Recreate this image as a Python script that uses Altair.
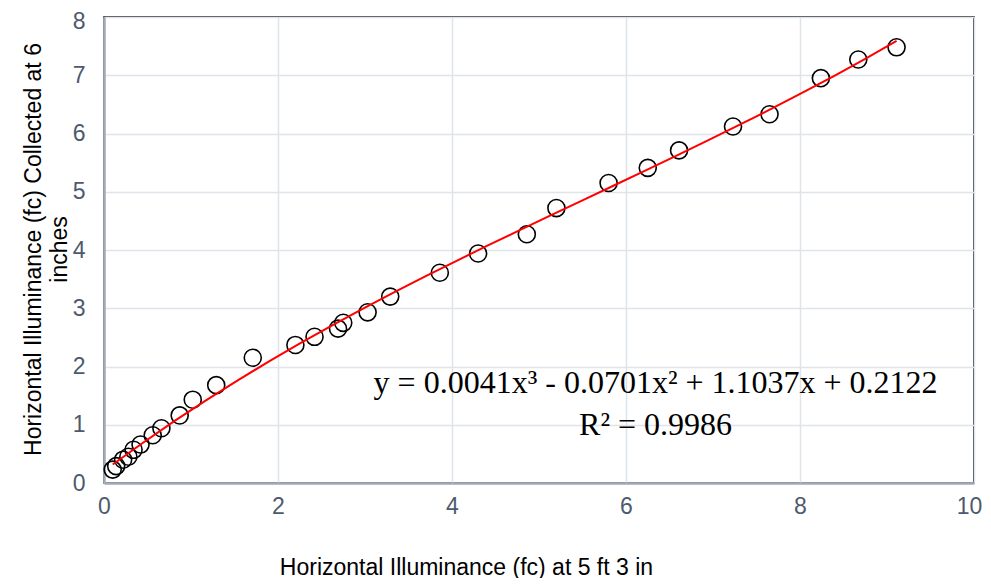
import altair as alt
import pandas as pd

# Data
x_vals = [0.10, 0.14, 0.22, 0.28, 0.34, 0.42, 0.56, 0.66, 0.87, 1.02, 1.29, 1.71,
          2.20, 2.42, 2.69, 2.75, 3.03, 3.29, 3.86, 4.30, 4.86, 5.20, 5.80, 6.25,
          6.61, 7.23, 7.65, 8.24, 8.67, 9.11]
y_vals = [0.23, 0.29, 0.40, 0.45, 0.57, 0.66, 0.82, 0.94, 1.16, 1.43, 1.68, 2.15,
          2.37, 2.51, 2.65, 2.75, 2.93, 3.20, 3.61, 3.94, 4.27, 4.72, 5.15, 5.41,
          5.71, 6.12, 6.33, 6.95, 7.27, 7.48]
x_ticks = [0, 2, 4, 6, 8, 10]
y_ticks = [0, 1, 2, 3, 4, 5, 6, 7, 8]
ann_labels = ["y = 0.0041x³ - 0.0701x² + 1.1037x + 0.2122", "R² = 0.9986"]
ann_x = [6.34, 6.34]
ann_y = [1.71, 0.99]

x_title = "Horizontal Illuminance (fc) at 5 ft 3 in"
y_title = ["Horizontal Illuminance (fc) Collected at 6", "inches"]

df = pd.DataFrame({"x": x_vals, "y": y_vals})
ann = pd.DataFrame({"x": ann_x, "y": ann_y, "label": ann_labels})

xscale = alt.Scale(domain=[0, 10], nice=False)
yscale = alt.Scale(domain=[0, 8], nice=False)

label_color = "#4d5a6e"
grid_color = "#dfe4ea"

xaxis = alt.Axis(values=x_ticks, format="d", title=x_title, titleX=362, titleY=84,
                 titleBaseline="middle", titleAnchor="middle", labelPadding=12,
                 labelOffset={"condition": {"test": "datum.value == 10", "value": -5},
                              "value": 0})
yaxis = alt.Axis(values=y_ticks, format="d", title=y_title, titleX=-71, titleY=232,
                 titleBaseline="middle", titleAnchor="middle", titleLineHeight=26,
                 labelPadding=19,
                 labelOffset={"condition": {"test": "datum.value == 8", "value": 4},
                              "value": 0})

base = alt.Chart(df)

points = base.mark_point(shape="circle", filled=False, size=290, stroke="black",
                         strokeWidth=1.6, opacity=1).encode(
    x=alt.X("x:Q", scale=xscale, axis=xaxis),
    y=alt.Y("y:Q", scale=yscale, axis=yaxis),
)

trend = base.transform_regression("x", "y", method="poly", order=3).mark_line(
    color="#ff0000", strokeWidth=2
).encode(
    x=alt.X("x:Q", scale=xscale),
    y=alt.Y("y:Q", scale=yscale),
)

text = alt.Chart(ann).mark_text(font="Liberation Serif", fontSize=32, color="black",
                                align="center", baseline="middle").encode(
    x=alt.X("x:Q", scale=xscale),
    y=alt.Y("y:Q", scale=yscale),
    text="label:N",
)

chart = alt.layer(points, trend, text).properties(
    width=870, height=466,
    autosize=alt.AutoSizeParams(type="none"),
    padding={"left": 96, "top": 9, "right": 9, "bottom": 95},
).configure_view(
    stroke="black", strokeWidth=1.5
).configure_axis(
    grid=True, gridColor=grid_color, gridWidth=1.5,
    domainColor="#a3abb8", domainWidth=2.5,
    ticks=False, tickSize=0, labelFlush=False,
    labelFont="Liberation Sans", labelFontSize=23, labelColor=label_color,
    titleFont="Liberation Sans", titleFontSize=23, titleColor="black",
    titleFontWeight="normal",
)

chart.save("out.html", embed_options={"renderer": "svg", "actions": False})
